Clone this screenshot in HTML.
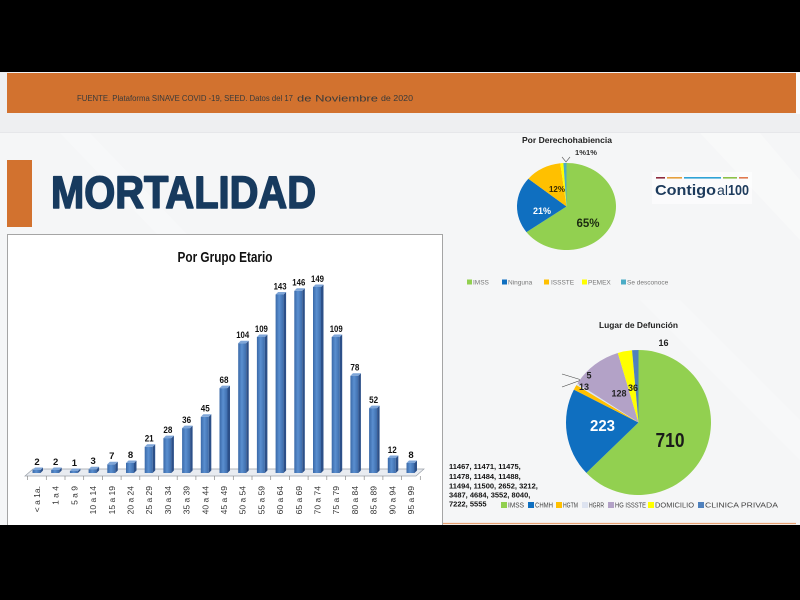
<!DOCTYPE html>
<html><head><meta charset="utf-8"><style>
html,body{margin:0;padding:0;background:#000;}
svg{display:block;}
text{font-family:"Liberation Sans",sans-serif;}
</style></head><body>
<svg width="800" height="600" viewBox="0 0 800 600" xmlns="http://www.w3.org/2000/svg">
<defs>
<linearGradient id="bf" x1="0" y1="0" x2="1" y2="0">
<stop offset="0" stop-color="#3a69a8"/><stop offset="0.45" stop-color="#5a8fd0"/><stop offset="1" stop-color="#3d6cab"/>
</linearGradient>
</defs>
<rect x="0" y="0" width="800" height="600" fill="#000"/>
<rect x="0" y="72" width="800" height="453" fill="#eeeff1"/>
<rect x="796" y="72" width="4" height="42" fill="#fafafa"/>
<rect x="7" y="73" width="789" height="40" fill="#d2722f"/>
<rect x="0" y="132" width="800" height="393" fill="#f5f6f7"/>
<line x1="0" y1="132.5" x2="800" y2="132.5" stroke="#e6e7ea" stroke-width="1"/>
<polygon points="60,133 90,133 250,300 220,300" fill="#ffffff" opacity="0.25"/>
<polygon points="700,133 760,133 800,180 800,240" fill="#ffffff" opacity="0.3"/>
<polygon points="640,300 680,300 800,420 800,460" fill="#ffffff" opacity="0.25"/>

<text x="77" y="101" font-size="8" fill="#3a3a3a" textLength="216" lengthAdjust="spacingAndGlyphs">FUENTE. Plataforma SINAVE COVID -19, SEED. Datos del 17</text>
<text x="297" y="101.5" font-size="9.5" fill="#3a3a3a" textLength="81" lengthAdjust="spacingAndGlyphs">de Noviembre</text>
<text x="381" y="101" font-size="8" fill="#3a3a3a" textLength="32" lengthAdjust="spacingAndGlyphs">de 2020</text>

<rect x="7" y="160" width="25" height="67" fill="#d2722f"/>
<text x="51" y="208" font-size="45" font-weight="bold" fill="#173a5e" stroke="#173a5e" stroke-width="1.6" stroke-linejoin="round" textLength="265" lengthAdjust="spacingAndGlyphs">MORTALIDAD</text>

<!-- logo -->
<rect x="652" y="172" width="100" height="32" fill="#ffffff" opacity="0.6"/>
<rect x="656" y="177" width="9" height="1.6" fill="#8e2b3e"/>
<rect x="667" y="177" width="15" height="1.6" fill="#e6a13f"/>
<rect x="684" y="177" width="37" height="1.6" fill="#2fa3d6"/>
<rect x="723" y="177" width="14" height="1.6" fill="#8dc149"/>
<rect x="739" y="177" width="9" height="1.6" fill="#e07a4f"/>
<text x="655" y="195" font-size="15" font-weight="bold" fill="#1d3b5c" textLength="61" lengthAdjust="spacingAndGlyphs">Contigo</text>
<text x="717" y="195" font-size="14" fill="#1d3b5c" textLength="11" lengthAdjust="spacingAndGlyphs">al</text>
<text x="728" y="195" font-size="15" font-weight="bold" fill="#1d3b5c" textLength="21" lengthAdjust="spacingAndGlyphs">100</text>

<!-- bar chart box -->
<rect x="7.5" y="234.5" width="435" height="295" fill="#ffffff" stroke="#a5a5a5" stroke-width="1"/>
<text x="225" y="262" font-size="15" font-weight="bold" fill="#111" text-anchor="middle" textLength="95" lengthAdjust="spacingAndGlyphs">Por Grupo Etario</text>

<!-- floor -->
<polygon points="25,476 416,476 424,469 33,469" fill="#e9ecf1" stroke="#9aa0a8" stroke-width="0.7"/>
<g stroke="#8a8a8a" stroke-width="0.7">
<line x1="27.6" y1="476" x2="27.6" y2="480"/><line x1="46.3" y1="476" x2="46.3" y2="480"/><line x1="65" y1="476" x2="65" y2="480"/><line x1="83.7" y1="476" x2="83.7" y2="480"/><line x1="102.4" y1="476" x2="102.4" y2="480"/><line x1="121.1" y1="476" x2="121.1" y2="480"/><line x1="139.8" y1="476" x2="139.8" y2="480"/><line x1="158.5" y1="476" x2="158.5" y2="480"/><line x1="177.2" y1="476" x2="177.2" y2="480"/><line x1="195.9" y1="476" x2="195.9" y2="480"/><line x1="214.6" y1="476" x2="214.6" y2="480"/><line x1="233.3" y1="476" x2="233.3" y2="480"/><line x1="252" y1="476" x2="252" y2="480"/><line x1="270.7" y1="476" x2="270.7" y2="480"/><line x1="289.4" y1="476" x2="289.4" y2="480"/><line x1="308.1" y1="476" x2="308.1" y2="480"/><line x1="326.8" y1="476" x2="326.8" y2="480"/><line x1="345.5" y1="476" x2="345.5" y2="480"/><line x1="364.2" y1="476" x2="364.2" y2="480"/><line x1="382.9" y1="476" x2="382.9" y2="480"/><line x1="401.6" y1="476" x2="401.6" y2="480"/><line x1="420.3" y1="476" x2="420.3" y2="480"/>
</g>

<!-- bars -->
<g id="bars">
<g transform="translate(37 0)"><rect x="-4.5" y="470" width="8" height="3" fill="url(#bf)"/><polygon points="3.5,470 6,467.5 6,470.5 3.5,473" fill="#2c5089"/><polygon points="-4.5,470 -2,467.5 6,467.5 3.5,470" fill="#7fa6d8"/></g>
<g transform="translate(55.7 0)"><rect x="-4.5" y="470" width="8" height="3" fill="url(#bf)"/><polygon points="3.5,470 6,467.5 6,470.5 3.5,473" fill="#2c5089"/><polygon points="-4.5,470 -2,467.5 6,467.5 3.5,470" fill="#7fa6d8"/></g>
<g transform="translate(74.4 0)"><rect x="-4.5" y="471" width="8" height="2" fill="url(#bf)"/><polygon points="3.5,471 6,468.5 6,470.5 3.5,473" fill="#2c5089"/><polygon points="-4.5,471 -2,468.5 6,468.5 3.5,471" fill="#7fa6d8"/></g>
<g transform="translate(93.1 0)"><rect x="-4.5" y="469.3" width="8" height="3.7" fill="url(#bf)"/><polygon points="3.5,469.3 6,466.8 6,470.5 3.5,473" fill="#2c5089"/><polygon points="-4.5,469.3 -2,466.8 6,466.8 3.5,469.3" fill="#7fa6d8"/></g>
<g transform="translate(111.8 0)"><rect x="-4.5" y="464.3" width="8" height="8.7" fill="url(#bf)"/><polygon points="3.5,464.3 6,461.8 6,470.5 3.5,473" fill="#2c5089"/><polygon points="-4.5,464.3 -2,461.8 6,461.8 3.5,464.3" fill="#7fa6d8"/></g>
<g transform="translate(130.5 0)"><rect x="-4.5" y="463" width="8" height="10" fill="url(#bf)"/><polygon points="3.5,463 6,460.5 6,470.5 3.5,473" fill="#2c5089"/><polygon points="-4.5,463 -2,460.5 6,460.5 3.5,463" fill="#7fa6d8"/></g>
<g transform="translate(149.2 0)"><rect x="-4.5" y="446.8" width="8" height="26.2" fill="url(#bf)"/><polygon points="3.5,446.8 6,444.3 6,470.5 3.5,473" fill="#2c5089"/><polygon points="-4.5,446.8 -2,444.3 6,444.3 3.5,446.8" fill="#7fa6d8"/></g>
<g transform="translate(167.9 0)"><rect x="-4.5" y="438.1" width="8" height="34.9" fill="url(#bf)"/><polygon points="3.5,438.1 6,435.6 6,470.5 3.5,473" fill="#2c5089"/><polygon points="-4.5,438.1 -2,435.6 6,435.6 3.5,438.1" fill="#7fa6d8"/></g>
<g transform="translate(186.6 0)"><rect x="-4.5" y="428.1" width="8" height="44.9" fill="url(#bf)"/><polygon points="3.5,428.1 6,425.6 6,470.5 3.5,473" fill="#2c5089"/><polygon points="-4.5,428.1 -2,425.6 6,425.6 3.5,428.1" fill="#7fa6d8"/></g>
<g transform="translate(205.3 0)"><rect x="-4.5" y="416.8" width="8" height="56.2" fill="url(#bf)"/><polygon points="3.5,416.8 6,414.3 6,470.5 3.5,473" fill="#2c5089"/><polygon points="-4.5,416.8 -2,414.3 6,414.3 3.5,416.8" fill="#7fa6d8"/></g>
<g transform="translate(224 0)"><rect x="-4.5" y="388.1" width="8" height="84.9" fill="url(#bf)"/><polygon points="3.5,388.1 6,385.6 6,470.5 3.5,473" fill="#2c5089"/><polygon points="-4.5,388.1 -2,385.6 6,385.6 3.5,388.1" fill="#7fa6d8"/></g>
<g transform="translate(242.7 0)"><rect x="-4.5" y="343.2" width="8" height="129.8" fill="url(#bf)"/><polygon points="3.5,343.2 6,340.7 6,470.5 3.5,473" fill="#2c5089"/><polygon points="-4.5,343.2 -2,340.7 6,340.7 3.5,343.2" fill="#7fa6d8"/></g>
<g transform="translate(261.4 0)"><rect x="-4.5" y="337" width="8" height="136" fill="url(#bf)"/><polygon points="3.5,337 6,334.5 6,470.5 3.5,473" fill="#2c5089"/><polygon points="-4.5,337 -2,334.5 6,334.5 3.5,337" fill="#7fa6d8"/></g>
<g transform="translate(280.1 0)"><rect x="-4.5" y="294.5" width="8" height="178.5" fill="url(#bf)"/><polygon points="3.5,294.5 6,292 6,470.5 3.5,473" fill="#2c5089"/><polygon points="-4.5,294.5 -2,292 6,292 3.5,294.5" fill="#7fa6d8"/></g>
<g transform="translate(298.8 0)"><rect x="-4.5" y="290.8" width="8" height="182.2" fill="url(#bf)"/><polygon points="3.5,290.8 6,288.3 6,470.5 3.5,473" fill="#2c5089"/><polygon points="-4.5,290.8 -2,288.3 6,288.3 3.5,290.8" fill="#7fa6d8"/></g>
<g transform="translate(317.5 0)"><rect x="-4.5" y="287" width="8" height="186" fill="url(#bf)"/><polygon points="3.5,287 6,284.5 6,470.5 3.5,473" fill="#2c5089"/><polygon points="-4.5,287 -2,284.5 6,284.5 3.5,287" fill="#7fa6d8"/></g>
<g transform="translate(336.2 0)"><rect x="-4.5" y="337" width="8" height="136" fill="url(#bf)"/><polygon points="3.5,337 6,334.5 6,470.5 3.5,473" fill="#2c5089"/><polygon points="-4.5,337 -2,334.5 6,334.5 3.5,337" fill="#7fa6d8"/></g>
<g transform="translate(354.9 0)"><rect x="-4.5" y="375.7" width="8" height="97.3" fill="url(#bf)"/><polygon points="3.5,375.7 6,373.2 6,470.5 3.5,473" fill="#2c5089"/><polygon points="-4.5,375.7 -2,373.2 6,373.2 3.5,375.7" fill="#7fa6d8"/></g>
<g transform="translate(373.6 0)"><rect x="-4.5" y="408.1" width="8" height="64.9" fill="url(#bf)"/><polygon points="3.5,408.1 6,405.6 6,470.5 3.5,473" fill="#2c5089"/><polygon points="-4.5,408.1 -2,405.6 6,405.6 3.5,408.1" fill="#7fa6d8"/></g>
<g transform="translate(392.3 0)"><rect x="-4.5" y="458" width="8" height="15" fill="url(#bf)"/><polygon points="3.5,458 6,455.5 6,470.5 3.5,473" fill="#2c5089"/><polygon points="-4.5,458 -2,455.5 6,455.5 3.5,458" fill="#7fa6d8"/></g>
<g transform="translate(411 0)"><rect x="-4.5" y="463" width="8" height="10" fill="url(#bf)"/><polygon points="3.5,463 6,460.5 6,470.5 3.5,473" fill="#2c5089"/><polygon points="-4.5,463 -2,460.5 6,460.5 3.5,463" fill="#7fa6d8"/></g>
</g>

<!-- value labels -->
<g font-size="9.5" font-weight="bold" fill="#111" text-anchor="middle">
<text x="37" y="465">2</text><text x="55.7" y="465">2</text><text x="74.4" y="466">1</text><text x="93.1" y="464">3</text><text x="111.8" y="459">7</text><text x="130.5" y="458">8</text>
<text x="149.2" y="441.5" textLength="9" lengthAdjust="spacingAndGlyphs">21</text>
<text x="167.9" y="433" textLength="9" lengthAdjust="spacingAndGlyphs">28</text>
<text x="186.6" y="423" textLength="9" lengthAdjust="spacingAndGlyphs">36</text>
<text x="205.3" y="411.5" textLength="9" lengthAdjust="spacingAndGlyphs">45</text>
<text x="224" y="383" textLength="9" lengthAdjust="spacingAndGlyphs">68</text>
<text x="242.7" y="338" textLength="13" lengthAdjust="spacingAndGlyphs">104</text>
<text x="261.4" y="332" textLength="13" lengthAdjust="spacingAndGlyphs">109</text>
<text x="280.1" y="289.5" textLength="13" lengthAdjust="spacingAndGlyphs">143</text>
<text x="298.8" y="285.5" textLength="13" lengthAdjust="spacingAndGlyphs">146</text>
<text x="317.5" y="282" textLength="13" lengthAdjust="spacingAndGlyphs">149</text>
<text x="336.2" y="332" textLength="13" lengthAdjust="spacingAndGlyphs">109</text>
<text x="354.9" y="370.5" textLength="9" lengthAdjust="spacingAndGlyphs">78</text>
<text x="373.6" y="403" textLength="9" lengthAdjust="spacingAndGlyphs">52</text>
<text x="392.3" y="453" textLength="9" lengthAdjust="spacingAndGlyphs">12</text>
<text x="411" y="458">8</text>
</g>

<!-- x labels -->
<g font-size="8.5" fill="#333" text-anchor="end">
<text transform="translate(40 486) rotate(-90)">&lt; a 1a.</text>
<text transform="translate(58.7 486) rotate(-90)">1 a 4</text>
<text transform="translate(77.4 486) rotate(-90)">5 a 9</text>
<text transform="translate(96.1 486) rotate(-90)">10 a 14</text>
<text transform="translate(114.8 486) rotate(-90)">15 a 19</text>
<text transform="translate(133.5 486) rotate(-90)">20 a 24</text>
<text transform="translate(152.2 486) rotate(-90)">25 a 29</text>
<text transform="translate(170.9 486) rotate(-90)">30 a 34</text>
<text transform="translate(189.6 486) rotate(-90)">35 a 39</text>
<text transform="translate(208.3 486) rotate(-90)">40 a 44</text>
<text transform="translate(227 486) rotate(-90)">45 a 49</text>
<text transform="translate(245.7 486) rotate(-90)">50 a 54</text>
<text transform="translate(264.4 486) rotate(-90)">55 a 59</text>
<text transform="translate(283.1 486) rotate(-90)">60 a 64</text>
<text transform="translate(301.8 486) rotate(-90)">65 a 69</text>
<text transform="translate(320.5 486) rotate(-90)">70 a 74</text>
<text transform="translate(339.2 486) rotate(-90)">75 a 79</text>
<text transform="translate(357.9 486) rotate(-90)">80 a 84</text>
<text transform="translate(376.6 486) rotate(-90)">85 a 89</text>
<text transform="translate(395.3 486) rotate(-90)">90 a 94</text>
<text transform="translate(414 486) rotate(-90)">95 a 99</text>
</g>

<!-- Pie 1 -->
<text x="567" y="143" font-size="8.5" font-weight="bold" fill="#222" text-anchor="middle" textLength="90" lengthAdjust="spacingAndGlyphs">Por Derechohabiencia</text>
<text x="586" y="155" font-size="7.5" font-weight="bold" fill="#333" text-anchor="middle" textLength="22" lengthAdjust="spacingAndGlyphs">1%1%</text>
<g transform="translate(566.5 206.5) scale(1 0.88)">
<path d="M0,0 L0,-49.5 A49.5,49.5 0 1 1 -40.05,29.10 Z" fill="#92d050"/>
<path d="M0,0 L-40.05,29.10 A49.5,49.5 0 0 1 -38.14,-31.55 Z" fill="#0f6fc0"/>
<path d="M0,0 L-38.14,-31.55 A49.5,49.5 0 0 1 -6.20,-49.11 Z" fill="#ffc000"/>
<path d="M0,0 L-6.20,-49.11 A49.5,49.5 0 0 1 -3.11,-49.40 Z" fill="#ffff00"/>
<path d="M0,0 L-3.11,-49.40 A49.5,49.5 0 0 1 0,-49.5 Z" fill="#4bacc6"/>
</g>
<polyline points="562,157 566,162 570,157" fill="none" stroke="#666" stroke-width="0.7"/>
<text x="588" y="227" font-size="11.5" font-weight="bold" fill="#1c2a10" text-anchor="middle">65%</text>
<text x="542" y="214" font-size="9" font-weight="bold" fill="#ffffff" text-anchor="middle">21%</text>
<text x="557" y="192" font-size="8" font-weight="bold" fill="#3a2a00" text-anchor="middle">12%</text>
<g font-size="6.5" fill="#777">
<rect x="467" y="279.5" width="5" height="5" fill="#92d050"/><text x="473" y="284.5">IMSS</text>
<rect x="502" y="279.5" width="5" height="5" fill="#0f6fc0"/><text x="508" y="284.5">Ninguna</text>
<rect x="544" y="279.5" width="5" height="5" fill="#ffc000"/><text x="551" y="284.5">ISSSTE</text>
<rect x="582" y="279.5" width="5" height="5" fill="#ffff00"/><text x="588" y="284.5">PEMEX</text>
<rect x="621" y="279.5" width="5" height="5" fill="#4bacc6"/><text x="627" y="284.5">Se desconoce</text>
</g>

<!-- Pie 2 -->
<text x="638.5" y="328" font-size="8.5" font-weight="bold" fill="#222" text-anchor="middle" textLength="79" lengthAdjust="spacingAndGlyphs">Lugar de Defunción</text>
<g transform="translate(638.5 422.5)">
<path d="M0,0 L0,-72.5 A72.5,72.5 0 1 1 -52.15,50.37 Z" fill="#92d050"/>
<path d="M0,0 L-52.15,50.37 A72.5,72.5 0 0 1 -64.62,-32.88 Z" fill="#0f6fc0"/>
<path d="M0,0 L-64.62,-32.88 A72.5,72.5 0 0 1 -62.07,-37.46 Z" fill="#ffc000"/>
<path d="M0,0 L-62.07,-37.46 A72.5,72.5 0 0 1 -61.01,-39.16 Z" fill="#dde3f0"/>
<path d="M0,0 L-61.01,-39.16 A72.5,72.5 0 0 1 -20.66,-69.49 Z" fill="#b3a2c7"/>
<path d="M0,0 L-20.66,-69.49 A72.5,72.5 0 0 1 -6.43,-72.21 Z" fill="#ffff00"/>
<path d="M0,0 L-6.43,-72.21 A72.5,72.5 0 0 1 0,-72.5 Z" fill="#4f81bd"/>
</g>
<line x1="562" y1="374" x2="580" y2="379.5" stroke="#444" stroke-width="0.6"/>
<line x1="562" y1="387" x2="580" y2="380.5" stroke="#444" stroke-width="0.6"/>
<text x="670" y="447" font-size="20" font-weight="bold" fill="#1a1a1a" text-anchor="middle" textLength="29" lengthAdjust="spacingAndGlyphs">710</text>
<text x="602.5" y="431" font-size="16" font-weight="bold" fill="#ffffff" text-anchor="middle" textLength="25" lengthAdjust="spacingAndGlyphs">223</text>
<g font-size="9" font-weight="bold" fill="#222" text-anchor="middle">
<text x="619" y="396.5">128</text>
<text x="633" y="391">36</text>
<text x="663.5" y="346">16</text>
<text x="589" y="378.5">5</text>
<text x="584" y="390">13</text>
</g>
<g font-size="7" fill="#444">
<rect x="501" y="502" width="6" height="6" fill="#92d050"/><text x="508" y="507.5" textLength="16" lengthAdjust="spacingAndGlyphs">IMSS</text>
<rect x="528" y="502" width="6" height="6" fill="#0f6fc0"/><text x="535" y="507.5" textLength="18" lengthAdjust="spacingAndGlyphs">CHMH</text>
<rect x="556" y="502" width="6" height="6" fill="#ffc000"/><text x="563" y="507.5" textLength="15" lengthAdjust="spacingAndGlyphs">HGTM</text>
<rect x="582" y="502" width="6" height="6" fill="#dde3f0"/><text x="589" y="507.5" textLength="15" lengthAdjust="spacingAndGlyphs">HGRR</text>
<rect x="608" y="502" width="6" height="6" fill="#b3a2c7"/><text x="615" y="507.5" textLength="31" lengthAdjust="spacingAndGlyphs">HG ISSSTE</text>
<rect x="648" y="502" width="6" height="6" fill="#ffff00"/><text x="655" y="507.5" textLength="39" lengthAdjust="spacingAndGlyphs">DOMICILIO</text>
<rect x="698" y="502" width="6" height="6" fill="#4f81bd"/><text x="705" y="507.5" textLength="73" lengthAdjust="spacingAndGlyphs">CLINICA PRIVADA</text>
</g>
<g font-size="7.5" font-weight="bold" fill="#111">
<text x="449" y="469">11467, 11471, 11475,</text>
<text x="449" y="479">11478, 11484, 11488,</text>
<text x="449" y="488.5">11494, 11500, 2652, 3212,</text>
<text x="449" y="497.5">3487, 4684, 3552, 8040,</text>
<text x="449" y="506.5">7222, 5555</text>
</g>

<line x1="443" y1="523.5" x2="796" y2="523.5" stroke="#e8a070" stroke-width="1.2"/>
<rect x="0" y="525" width="800" height="75" fill="#000"/>
</svg>
</body></html>
